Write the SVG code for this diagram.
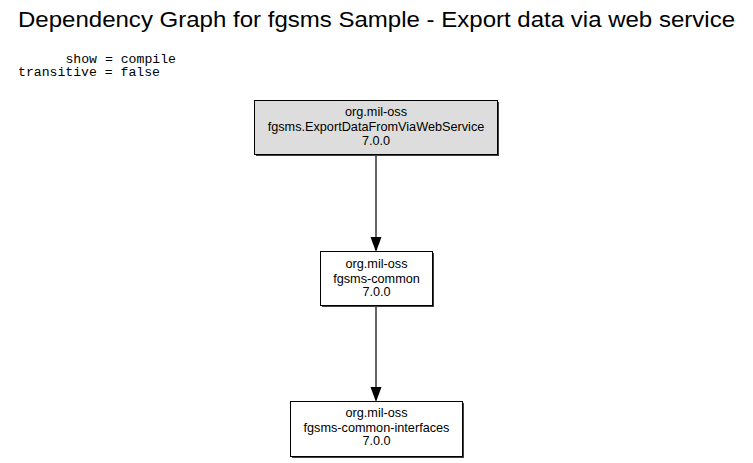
<svg xmlns="http://www.w3.org/2000/svg" width="753" height="463" viewBox="0 0 753 463">
<defs>
<style>
.title{font-family:"Liberation Sans",Arial,sans-serif;font-size:22px;fill:#000}
.mono{font-family:"Liberation Mono","Courier New",monospace;font-size:12.5px;fill:#000;white-space:pre}
.lbl{font-family:"Liberation Sans",Arial,sans-serif;font-size:12.7px;fill:#000;text-anchor:middle}
.box{stroke:#000;stroke-width:1}
.shadow{fill:#404040}
.edge{stroke:#000;stroke-width:1.2;fill:none}
.head{fill:#000}
</style>
</defs>
<rect width="753" height="463" fill="#fff"/>
<text class="title" x="18" y="27" textLength="717" lengthAdjust="spacingAndGlyphs">Dependency Graph for fgsms Sample - Export data via web service</text>
<text class="mono" x="18" y="63" xml:space="preserve" textLength="158" lengthAdjust="spacingAndGlyphs">      show = compile</text>
<text class="mono" x="18" y="76" textLength="142" lengthAdjust="spacingAndGlyphs">transitive = false</text>
<g id="connectors">
<line class="edge" x1="376" y1="155" x2="376" y2="238"/>
<polygon class="head" points="370.5,237 381.5,237 376,252"/>
<line class="edge" x1="376" y1="306" x2="376" y2="388"/>
<polygon class="head" points="370.5,387 381.5,387 376,402"/>
</g>
<g id="node1">
<rect class="shadow" x="256" y="102" width="243" height="54"/>
<rect class="box" x="254.5" y="100.5" width="243" height="54" fill="#dddddd"/>
<text class="lbl" x="376" y="116">org.mil-oss</text>
<text class="lbl" x="376" y="130.5">fgsms.ExportDataFromViaWebService</text>
<text class="lbl" x="376" y="145">7.0.0</text>
</g>
<g id="node2">
<rect class="shadow" x="322" y="253" width="112" height="54"/>
<rect class="box" x="320.5" y="251.5" width="112" height="54" fill="#fff"/>
<text class="lbl" x="376.5" y="268">org.mil-oss</text>
<text class="lbl" x="376.5" y="282.5">fgsms-common</text>
<text class="lbl" x="376.5" y="296">7.0.0</text>
</g>
<g id="node3">
<rect class="shadow" x="292" y="403" width="172" height="55"/>
<rect class="box" x="290.5" y="401.5" width="172" height="55" fill="#fff"/>
<text class="lbl" x="376.5" y="417">org.mil-oss</text>
<text class="lbl" x="376.5" y="431.5">fgsms-common-interfaces</text>
<text class="lbl" x="376.5" y="445">7.0.0</text>
</g>
</svg>
